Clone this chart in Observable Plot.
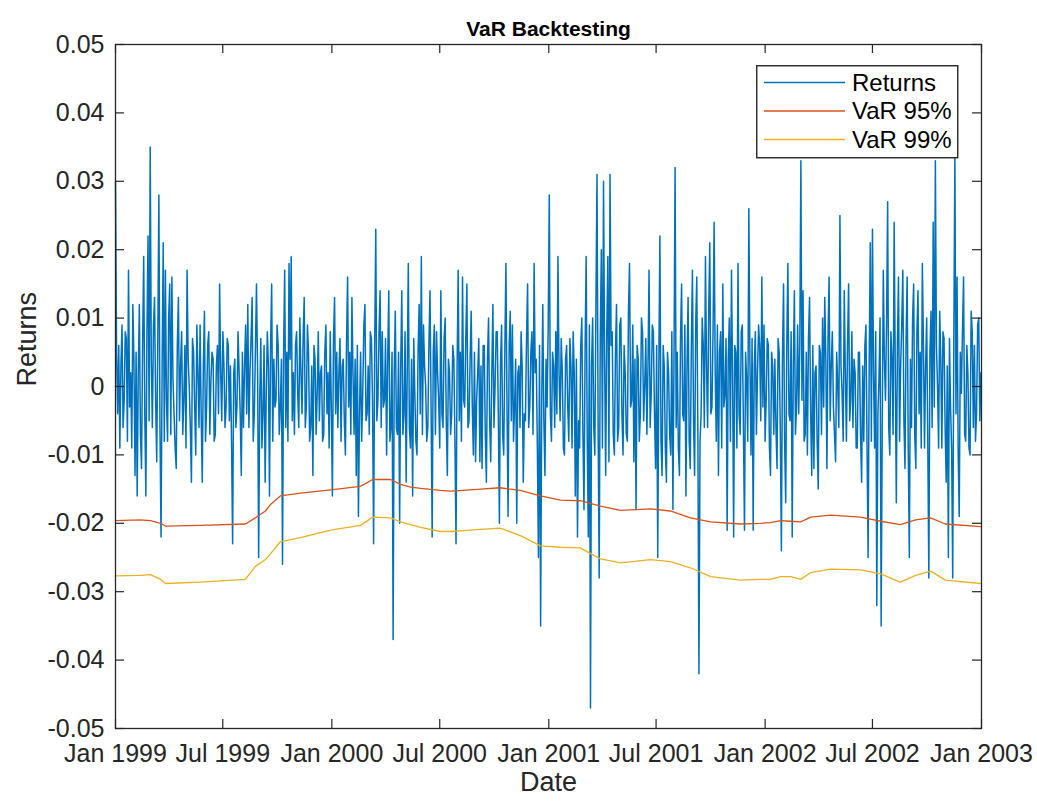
<!DOCTYPE html>
<html>
<head>
<meta charset="utf-8">
<script src="https://cdn.jsdelivr.net/npm/d3@7"></script>
<script src="https://cdn.jsdelivr.net/npm/@observablehq/plot@0.6"></script>
<style>
  html, body { margin: 0; padding: 0; background: #fff; }
  #wrap { position: relative; width: 1037px; height: 802px; }
  #wrap svg { display: block; }
  #legend { position: absolute; left: 756px; top: 65px; }
</style>
</head>
<body>
<div id="wrap"></div>
<script>
// ---- Data (returns in units of 0.001) ----
const titleText = "VaR Backtesting";
const xLabel = "Date";
const yLabel = "Returns";
const seriesNames = ["Returns", "VaR 95%", "VaR 99%"];
const seriesColors = ["#0072BD", "#D95319", "#EDB120"];

const returnsStart = "1999-01-01";
const returnsEnd = "2002-12-31";
const returnsPermille = [
  // Jan 1999 - Jun 1999
  30,5, -4,6, -9,3, 9,-6, -2,8, 7,-8, 17,-3, 2,-9, 12,4, -13,5,
  -16,2, 12,-7, -12,6, 19,-4, -16,8, 22,-5, 35,4, -6,9, 13,-2, -11,7,
  28,-6, -22,3, 21,-8, 17,-2, -8,10, 15,-7, 16,1, -4,-9, -12,6, 13,-5,
  3,8, -7,-2, 6,-9, 17,4, 0,-6, -14,7, 5,-3, -10,9, 2,-6, 9,-4,
  -14,3, 11,-8, -3,6, 8,-7, 1,5, 4,-8, -7,3, 6,-4, 15,2, -5,8,
  3,-6,
  // Jul 1999 - Dec 1999
  -3,7, 6,-5, 3,-8, -23,2, 4,-6, -3,8, 2,-4, -13,5, -6,3,
  9,-4, 12,-6, 2,7, 13,-8, -4,5, 15,3, -25,-2, 7,-9, -4,6, -14,-1,
  8,3, -16,6, 15,-8, 4,-3, -2,9, 6,-7, -3,4, -26,5, 17,-6, 5,-8,
  18,4, 19,-5, 2,-7, 6,8, -1,-6, 10,2, -4,7, 13,-6, -3,9, 5,-8,
  -6,3, -13,6, 4,-7, -1,8, -5,2, 3,-8, -7,5, 9,-4, 2,-9, 8,-3,
  -16,7, 13,-4,
  // Jan 2000 - Jun 2000
  5,-6, 2,7, -8,3, 4,-5, -10,6, 16,-3, 5,-7, 13,2,
  -7,4, -13,6, -19,-4, 5,-8, -1,9, 12,-5, -4,3, -7,8, 7,-2, -23,6,
  23,-5, -2,8, 14,-6, 8,-3, -2,7, -10,4, 14,-8, -6,5, -37,2, 11,-6,
  -7,5, -20,3, 14,-7, -4,8, -14,2, 18,-6, -9,4, -16,7, -1,-8, -10,5,
  12,-4, 19,-7, 9,3, 0,-8, -6,6, 14,-3, -22,5, 9,-7, 8,2, -2,-9,
  14,-4, -6,7, 10,-5,
  // Jul 2000 - Dec 2000
  -13,4, 2,-7, -4,6, 4,-8, -23,3, 17,-5, 5,-8,
  16,-2, -3,7, 15,-6, -5,4, 11,-3, -10,5, -11,-2, 2,7, -11,3, -12,6,
  6,-7, -14,4, 10,-5, -11,2, 12,-6, 0,8, 8,-4, -20,3, 9,-7, -10,5,
  18,-3, -19,6, 11,-5, 9,-8, -3,4, -20,2, 3,-6, 8,3, -14,-4, -5,7,
  15,-6, -3,5, 8,-7, 18,2, 4,-9, -25,6, -35,-3, 12,-5, -13,4, -3,9,
  28,-4,
  // Jan 2001 - Jun 2001
  -8,5, 3,-6, 8,-4, 19,2, -5,7, 2,-9, -10,4, 6,-3, -8,7,
  3,-9, 8,2, -16,4, -22,-5, -9,6, 10,-7, -18,5, 19,-8, -22,9, -47,3,
  10,-6, -10,12, 31,-5, -28,7, 20,-9, 30,4, -13,8, 19,-11, 31,6, 8,-7,
  -10,5, 12,-8, -6,9, 10,-4, -10,6, 2,-7, -8,11, 18,-3, -2,9, -11,4,
  -18,6, 4,-8, -4,10, 8,-5, 0,7, -7,3, 17,-6, -1,9, 8,-4, -12,6,
  -25,3, 22,-8,
  // Jul 2001 - Dec 2001
  -13,6, 3,-9, -14,5, 2,-7, -10,8, -18,4, 32,-6, 5,-9, -13,7, 15,-4,
  -5,9, -16,3, 13,-8, -12,6, 17,-5, -13,9, 16,-7, -42,-8, -4,10, 6,-6,
  19,3, -6,11, 21,-4, -3,8, 24,2, -8,9, -13,5, 8,-9, 15,-3, -1,7,
  -21,4, 10,-8, 17,2, -22,6, 5,-9, 18,-4, -7,8, 9,-6, -21,5, 1,-8,
  26,4, -10,7, -21,3, 8,-7, 2,9, 6,-5, 16,-3, 9,-8, -2,7, 6,-9,
  -13,5, 3,-7, 4,-6,
  // Jan 2002 - Jun 2002
  -12,7, 5,-6, -24,4, 15,-8, -17,6, 18,-4, -5,8, -22,3, 14,-7, -3,9,
  -4,6, 33,-2, 14,-8, -7,5, -10,7, 13,-4, -13,6, -12,2, 3,-8, -15,6,
  5,-7, 10,-3, 13,4, -12,7, 16,-5, 3,8, -3,-7, -11,5, 0,-6, 25,3,
  -1,-8, 14,2, -8,6, 15,-5, -2,8, -6,4, 2,-9, -9,5, 5,-7, -14,3,
  -8,6, 9,-9, -25,4, 21,-8, 23,2, -9,8, -32,-4, 1,10, -35,-6, 17,4,
  -2,9,
  // Jul 2002 - Dec 2002
  27,-6, -10,8, 4,-7, 24,3, -17,6, 16,-8, 3,9, 17,-5, -12,7, 16,-9,
  -25,4, -6,10, 15,-7, -12,8, 14,-4, 5,-9, 18,6, -9,3, 10,-8, -28,5,
  11,-6, 24,-3, 33,6, 0,-9, 11,4, -9,8, 7,-6, -14,3, -25,7, -3,-9,
  -28,6, 34,-4, 16,-9, -19,5, -1,8, 16,-7, -8,6, 2,-9, -10,11, 8,-6,
  6,-8, -4,9, 10,-5, 2
];

const varDates = [
  "1999-01-01","1999-02-12","1999-03-01","1999-03-18","1999-03-26","1999-05-24",
  "1999-08-08","1999-08-25","1999-09-11","1999-09-19","1999-10-06","1999-11-09",
  "1999-12-30","2000-02-18","2000-03-10","2000-04-09","2000-04-26","2000-05-13",
  "2000-05-30","2000-07-02","2000-07-19","2000-08-22","2000-09-08","2000-10-11",
  "2000-11-14","2000-12-18","2001-01-21","2001-02-23","2001-03-29","2001-05-02",
  "2001-06-22","2001-07-25","2001-08-28","2001-10-01","2001-11-20","2001-12-24",
  "2002-01-10","2002-01-27","2002-02-13","2002-03-02","2002-03-19","2002-04-21",
  "2002-06-11","2002-07-15","2002-08-17","2002-09-12","2002-10-07","2002-11-01",
  "2002-12-30"
];
const var95Permille = [
  -19.6,-19.5,-19.6,-20.0,-20.4,-20.3,
  -20.1,-19.2,-18.2,-17.3,-16.0,-15.6,
  -15.1,-14.6,-13.6,-13.6,-14.3,-14.7,
  -14.9,-15.2,-15.3,-15.1,-15.0,-14.8,
  -15.2,-16.0,-16.6,-16.7,-17.5,-18.1,
  -17.9,-18.2,-19.2,-19.8,-20.1,-20.0,
  -19.9,-19.6,-19.7,-19.8,-19.1,-18.8,
  -19.1,-19.7,-20.2,-19.5,-19.2,-20.1,
  -20.5
];
const var99Permille = [
  -27.7,-27.6,-27.5,-28.2,-28.8,-28.6,
  -28.2,-26.3,-25.3,-24.5,-22.7,-22.1,
  -21.0,-20.3,-19.1,-19.2,-19.8,-20.2,
  -20.6,-21.2,-21.2,-21.0,-20.9,-20.7,
  -21.8,-23.3,-23.5,-23.6,-25.2,-25.8,
  -25.3,-25.6,-26.5,-27.8,-28.3,-28.2,
  -28.2,-27.8,-27.8,-28.2,-27.2,-26.7,
  -26.8,-27.4,-28.6,-27.6,-27.0,-28.3,
  -28.8
];

const xTickDates = ["1999-01-01","1999-07-01","2000-01-01","2000-07-01","2001-01-01","2001-07-01","2002-01-01","2002-07-01","2003-01-01"];
const xTickLabels = ["Jan 1999","Jul 1999","Jan 2000","Jul 2000","Jan 2001","Jul 2001","Jan 2002","Jul 2002","Jan 2003"];
const yTickValues = [-0.05,-0.04,-0.03,-0.02,-0.01,0,0.01,0.02,0.03,0.04,0.05];
const yTickLabels = ["-0.05","-0.04","-0.03","-0.02","-0.01","0","0.01","0.02","0.03","0.04","0.05"];

// ---- Build tables ----
const t0 = +new Date(returnsStart + "T00:00:00Z");
const t1 = +new Date(returnsEnd + "T00:00:00Z");
const nR = returnsPermille.length;
const retData = returnsPermille.map((v, i) => ({
  date: new Date(t0 + i * (t1 - t0) / (nR - 1)),
  value: v / 1000
}));
const varData = varDates.map((d, i) => ({
  date: new Date(d + "T00:00:00Z"),
  v95: var95Permille[i] / 1000,
  v99: var99Permille[i] / 1000
}));
const xTicks = xTickDates.map(d => new Date(d + "T00:00:00Z"));
const xFmt = d => xTickLabels[xTicks.findIndex(t => +t === +d)];
const yFmt = d => yTickLabels[yTickValues.findIndex(t => Math.abs(t - d) < 1e-9)];

const W = 1037, H = 802;
const mL = 115, mR = 56, mT = 44, mB = 74;
const innerW = W - mL - mR, innerH = H - mT - mB;
const tickLen = 9;
const axisColor = "#262626";
const fontFam = "'Liberation Sans', Arial, Helvetica, sans-serif";

const chart = Plot.plot({
  width: W, height: H,
  marginLeft: mL, marginRight: mR, marginTop: mT, marginBottom: mB,
  style: { fontFamily: fontFam, fontSize: "25px", color: axisColor, background: "#fff" },
  x: { type: "utc", domain: [xTicks[0], xTicks[xTicks.length - 1]] },
  y: { domain: [-0.05, 0.05] },
  marks: [
    Plot.line(retData, { x: "date", y: "value", stroke: seriesColors[0], strokeWidth: 1.5 }),
    Plot.line(varData, { x: "date", y: "v95", stroke: seriesColors[1], strokeWidth: 1.3 }),
    Plot.line(varData, { x: "date", y: "v99", stroke: seriesColors[2], strokeWidth: 1.3 }),
    Plot.tickX(xTicks, { x: d => d, insetTop: innerH - tickLen, stroke: axisColor, strokeWidth: 1.2 }),
    Plot.tickX(xTicks, { x: d => d, insetBottom: innerH - tickLen, stroke: axisColor, strokeWidth: 1.2 }),
    Plot.tickY(yTickValues, { y: d => d, insetRight: innerW - tickLen, stroke: axisColor, strokeWidth: 1.2 }),
    Plot.tickY(yTickValues, { y: d => d, insetLeft: innerW - tickLen, stroke: axisColor, strokeWidth: 1.2 }),
    Plot.frame({ stroke: axisColor, strokeWidth: 1.3 }),
    Plot.axisX(xTicks, { tickSize: 0, tickPadding: 16, tickFormat: xFmt, label: null, fontSize: 25, fill: axisColor }),
    Plot.axisY(yTickValues, { tickSize: 0, tickPadding: 11, tickFormat: yFmt, label: null, fontSize: 25, fill: axisColor }),
    Plot.text([titleText], { text: d => d, frameAnchor: "top", dy: -23, fontWeight: "bold", fontSize: 21, fill: "#000" }),
    Plot.text([xLabel], { text: d => d, frameAnchor: "bottom", dy: 62, fontSize: 27, fill: axisColor }),
    Plot.text([yLabel], { text: d => d, frameAnchor: "left", dx: -88, rotate: -90, fontSize: 27, fill: axisColor })
  ]
});
document.getElementById("wrap").appendChild(chart);

// ---- Legend (boxed, top-right inside the axes) ----
const lg = d3.select("#wrap").append("svg")
  .attr("id", "legend").attr("width", 204).attr("height", 95);
lg.append("rect").attr("x", 0.75).attr("y", 0.75).attr("width", 201).attr("height", 92)
  .attr("fill", "#fff").attr("stroke", axisColor).attr("stroke-width", 1.4);
seriesNames.forEach((name, i) => {
  const cy = 17.5 + i * 28.5;
  lg.append("line").attr("x1", 8).attr("x2", 89).attr("y1", cy).attr("y2", cy)
    .attr("stroke", seriesColors[i]).attr("stroke-width", 1.4);
  lg.append("text").attr("x", 96).attr("y", cy).attr("dy", "0.35em")
    .attr("font-family", fontFam).attr("font-size", 24).attr("fill", "#000").text(name);
});
</script>
</body>
</html>
